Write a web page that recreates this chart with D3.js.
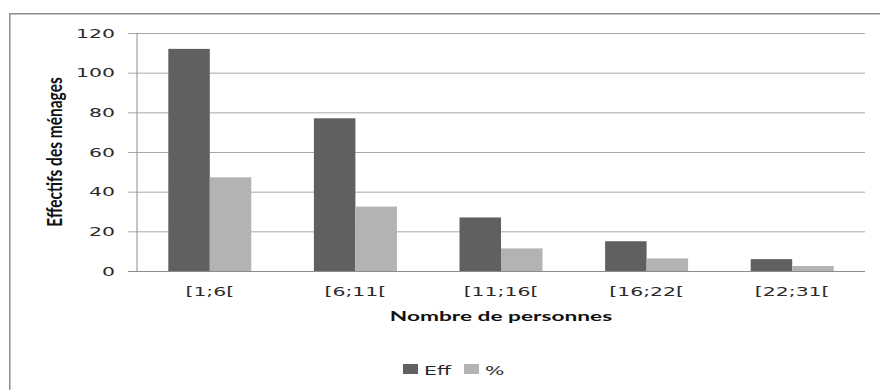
<!DOCTYPE html>
<html><head><meta charset="utf-8">
<script src="https://cdn.jsdelivr.net/npm/d3@7"></script>
<style>body{margin:0;background:#fff}svg{display:block}</style>
</head><body>
<svg id="c" width="880" height="390"></svg>
<script>
const categories = ["[1;6[", "[6;11[", "[11;16[", "[16;22[", "[22;31["];
const effValues = [112, 77, 27, 15, 6];
const pctValues = [47.26, 32.49, 11.39, 6.33, 2.53];
const seriesNames = ["Eff", "%"];
const yTicks = [0, 20, 40, 60, 80, 100, 120];
const yTitle = "Effectifs des ménages";
const xTitle = "Nombre de personnes";

const colors = {"Eff": "#606060", "%": "#b3b3b3"};
const tickFont = "'DejaVu Sans', Verdana, sans-serif";
const titleFont = "Lato, 'Open Sans', sans-serif";
const SX = 1.7;

const svg = d3.select("#c");
svg.append("rect").attr("x", 9.75).attr("y", 13.75).attr("width", 900).attr("height", 420)
  .attr("fill", "none").attr("stroke", "#8c8c8c").attr("stroke-width", 1.5);

const x = d3.scaleBand().domain(categories).range([137, 865]).paddingInner(0.43).paddingOuter(0.215);
const xs = d3.scaleBand().domain(seriesNames).range([0, x.bandwidth()]);
const y = d3.scaleLinear().domain([0, 120]).range([271, 33]);

function stretch(sel, f) {
  sel.each(function () {
    const w = this.getComputedTextLength();
    d3.select(this).attr("textLength", w * f).attr("lengthAdjust", "spacingAndGlyphs");
  });
}

// gridlines + y ticks
const yAxis = d3.axisLeft(y).tickValues(yTicks).tickSize(0).tickFormat(d3.format("d"));
const gy = svg.append("g").attr("transform", "translate(137,0)").call(yAxis);
gy.select(".domain").remove();
gy.selectAll(".tick line").remove();
gy.selectAll(".tick").append("line").attr("x1", -9).attr("x2", 728)
  .attr("stroke", d => d === 0 ? "#8c8c8c" : "#a8a8a8").attr("stroke-width", 1);
gy.selectAll(".tick text").attr("x", -22).attr("dy", "0.36em")
  .attr("font-family", tickFont).attr("font-size", 12).attr("fill", "#2a2a2a");
stretch(gy.selectAll(".tick text"), SX);
svg.append("line").attr("x1", 137).attr("x2", 137).attr("y1", y(120)).attr("y2", y(0))
  .attr("stroke", "#8c8c8c");

// bars
const rows = categories.map((c, i) => ({cat: c, vals: [{k: "Eff", v: effValues[i]}, {k: "%", v: pctValues[i]}]}));
const g = svg.append("g");
g.selectAll("g").data(rows).join("g")
  .attr("transform", d => `translate(${x(d.cat)},0)`)
  .selectAll("rect").data(d => d.vals).join("rect")
  .attr("x", d => xs(d.k)).attr("width", xs.bandwidth())
  .attr("y", d => y(d.v)).attr("height", d => y(0) - y(d.v))
  .attr("fill", d => colors[d.k]);

// redraw baseline on top
svg.append("line").attr("x1", 128).attr("x2", 865).attr("y1", y(0) + 0.5).attr("y2", y(0) + 0.5)
  .attr("stroke", "#8c8c8c");

// x labels
const xAxis = d3.axisBottom(x).tickSize(0);
const gx = svg.append("g").attr("transform", `translate(0,${y(0)})`).call(xAxis);
gx.select(".domain").remove();
gx.selectAll(".tick text").attr("y", 25).attr("dy", 0)
  .attr("font-family", tickFont).attr("font-size", 12).attr("fill", "#2a2a2a");
stretch(gx.selectAll(".tick text"), SX);

// axis titles
const xt = svg.append("text").attr("x", 501).attr("y", 321).attr("text-anchor", "middle")
  .attr("font-family", titleFont).attr("font-weight", "bold").attr("font-size", 14).attr("fill", "#111")
  .text(xTitle);
stretch(xt, 1.62);
svg.append("text").attr("transform", `translate(62,152) scale(1.35,1) rotate(-90)`)
  .attr("text-anchor", "middle")
  .attr("font-family", titleFont).attr("font-weight", "bold").attr("font-size", 15.5).attr("fill", "#111")
  .text(yTitle);

// legend
const legX = [403, 464];
const lg = svg.append("g");
seriesNames.forEach((s, i) => {
  lg.append("rect").attr("x", legX[i]).attr("y", 364).attr("width", 15).attr("height", 10).attr("fill", colors[s]);
  const t = lg.append("text").attr("x", legX[i] + 21).attr("y", 374.5)
    .attr("font-family", tickFont).attr("font-size", 12).attr("fill", "#2a2a2a").text(s);
  stretch(t, SX);
});
</script>
</body></html>
